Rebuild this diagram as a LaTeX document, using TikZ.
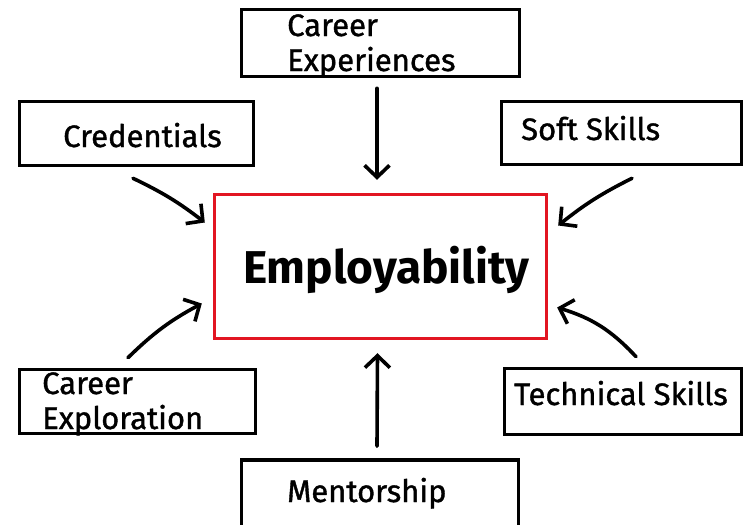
\documentclass[tikz,border=0pt]{standalone}
\usepackage{fontspec}
\setmainfont{Fira Sans}
\newfontfamily\lblfont[FakeBold=1.2]{Fira Sans}
\usetikzlibrary{arrows.meta}
\definecolor{empred}{RGB}{226,22,34}
\begin{document}
\begin{tikzpicture}[x=1pt,y=-1pt,
  box/.style={draw=black, line width=3.6pt, rectangle, inner sep=0pt},
  empbox/.style={draw=empred, line width=3.4pt, rectangle, inner sep=0pt},
  lbl/.style={font=\lblfont\fontsize{31}{35}\selectfont, align=left, inner sep=0pt, text=black},
  biglbl/.style={font=\bfseries\fontsize{46}{50}\selectfont, inner sep=0pt, text=black},
  arr/.style={line width=3.6pt, line cap=round, -{Straight Barb[length=12pt,width=25pt,line width=3.6pt]}}]
\useasboundingbox (0,0) rectangle (748,525);
\clip (0,0) rectangle (748,525);
% boxes
\node[box, minimum width=278pt, minimum height=67pt] (ce) at (380.5,43) {};
\node[box, minimum width=234pt, minimum height=64pt] (cred) at (136.5,133.5) {};
\node[box, minimum width=240pt, minimum height=63pt] (soft) at (621.5,133) {};
\node[empbox, minimum width=332pt, minimum height=144pt] (emp) at (380.5,266.5) {};
\node[box, minimum width=236pt, minimum height=64pt] (expl) at (137.5,401.5) {};
\node[box, minimum width=237pt, minimum height=66pt] (tech) at (623,401.5) {};
\node[box, minimum width=277pt, minimum height=72pt] (ment) at (380,496) {};
% labels
\node[lbl, anchor=base west] (cet) at (287,71) {Career\\Experiences};
\node[lbl, anchor=base west] (credt) at (63,147) {Credentials};
\node[lbl, anchor=base west] (softt) at (521,140) {Soft Skills};
\node[biglbl, anchor=base west] (empt) at (243,283) {Employability};
\node[lbl, anchor=base west] (explt) at (42,429) {Career\\Exploration};
\node[lbl, anchor=base west] (techt) at (514,405) {Technical Skills};
\node[lbl, anchor=base west] (mentt) at (287,502) {Mentorship};
% arrows
\draw[arr] ([xshift=-3.5pt,yshift=-10pt]ce.south) -- ([xshift=-3.5pt,yshift=13pt]emp.north);
\draw[arr] ([xshift=-3.5pt,yshift=-11pt]cred.south) to[bend left=6] ([xshift=-8pt,yshift=44pt]emp.west);
\draw[arr] ([xshift=10.5pt,yshift=-12pt]soft.south) to[bend right=6] ([xshift=10pt,yshift=41pt]emp.east);
\draw[arr] ([xshift=-9.5pt,yshift=10pt]expl.north) to[bend left=8] ([xshift=-11pt,yshift=-37pt]emp.west);
\draw[arr] ([xshift=13pt,yshift=10pt]tech.north) to[bend right=15] ([xshift=9pt,yshift=-41pt]emp.east);
\draw[arr] ([xshift=-3pt,yshift=12pt]ment.north) -- ([xshift=-3pt,yshift=-13pt]emp.south);
\end{tikzpicture}
\end{document}
